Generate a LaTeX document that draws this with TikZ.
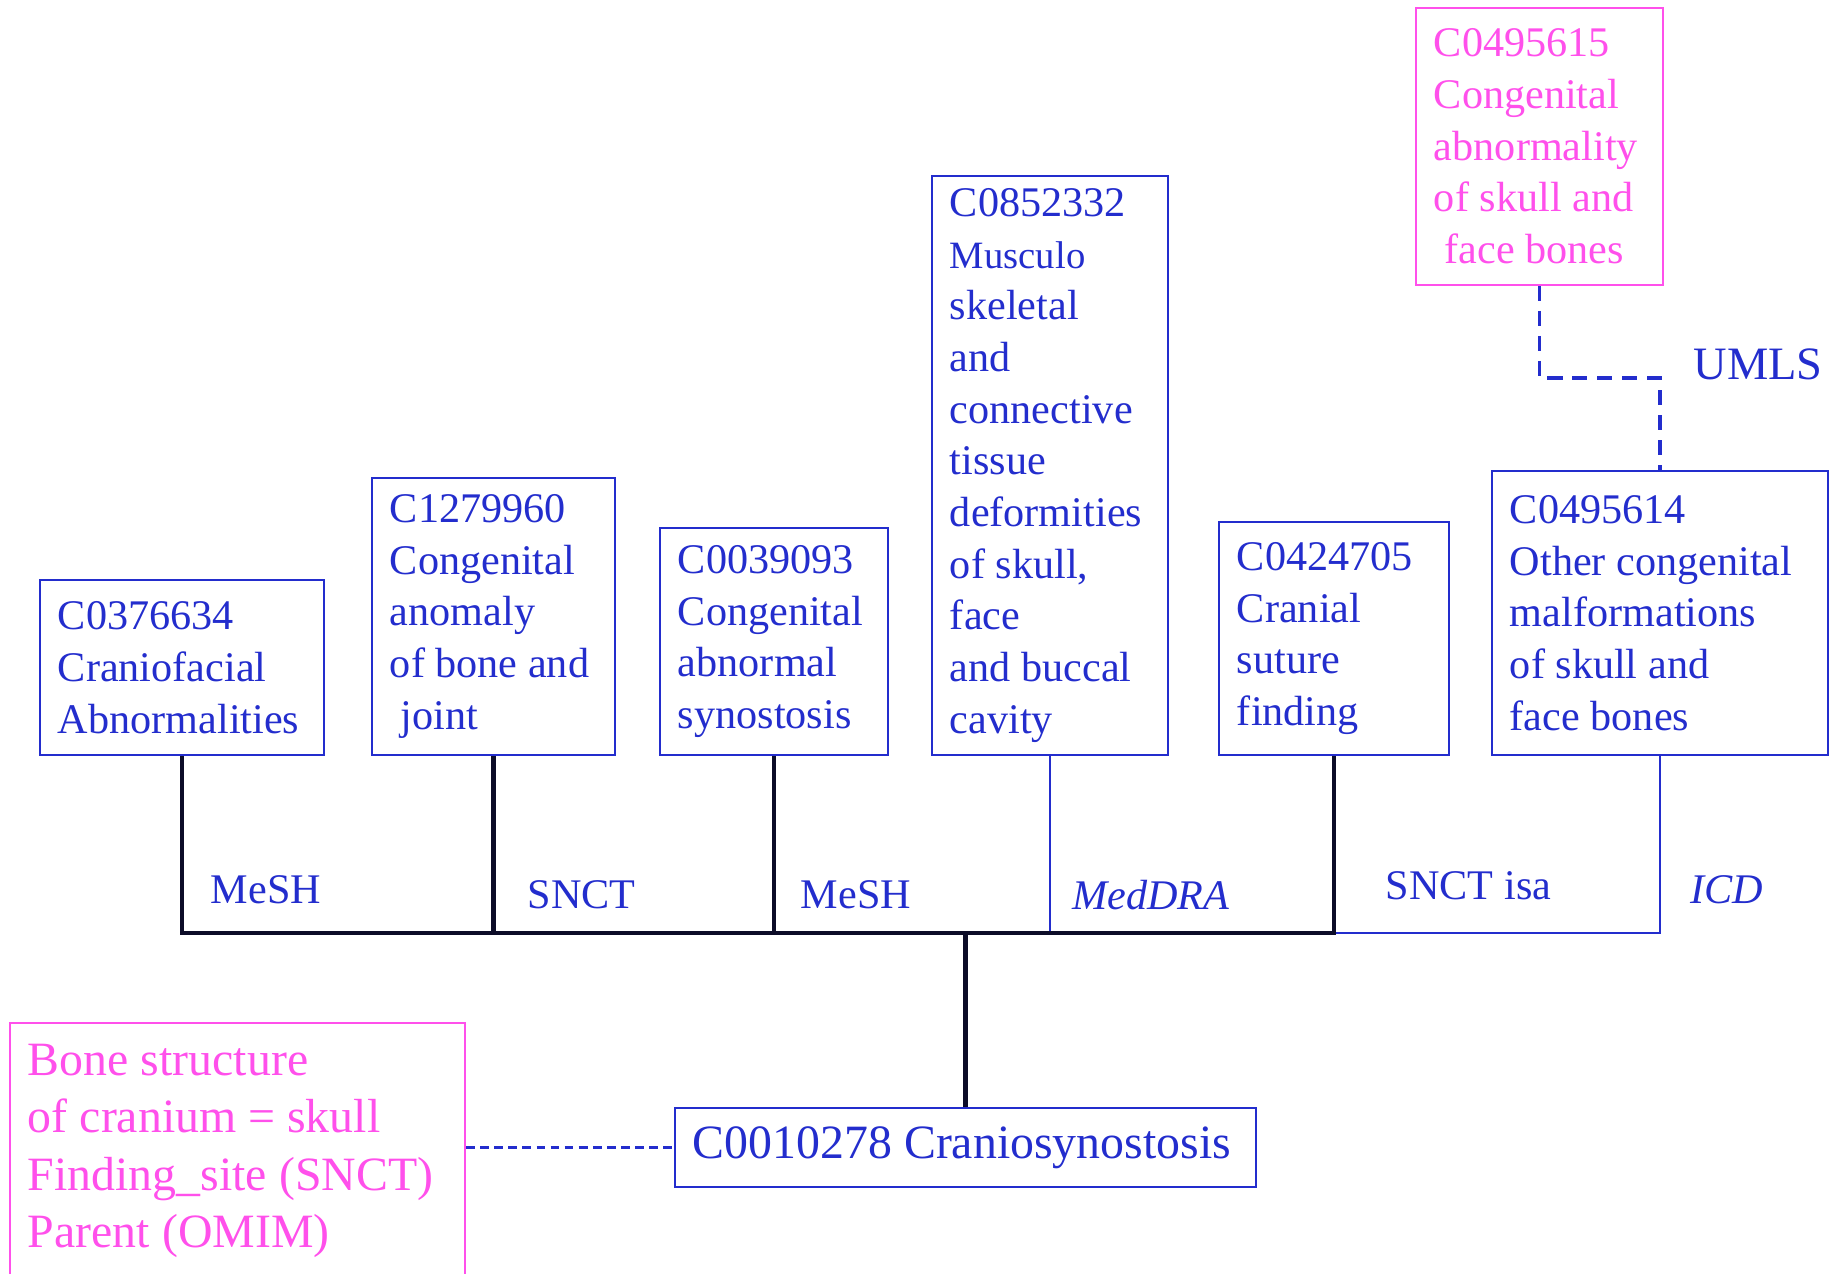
\documentclass[tikz,border=0pt]{standalone}
\usepackage{fontspec}
\setmainfont{Liberation Serif}
\hyphenpenalty=10000
\exhyphenpenalty=10000

\begin{document}
\begin{tikzpicture}[x=0.01cm,y=-0.01cm]
  % Colors
  \definecolor{umlsblue}{RGB}{35,45,205}
  \definecolor{umlspink}{RGB}{255,80,235}
  \definecolor{treecolor}{RGB}{12,12,40}

  % Styles
  \tikzstyle{concept}=[draw=umlsblue,line width=0.55pt,text=umlsblue,align=flush left,
    inner xsep=0.18cm,inner ysep=0pt,anchor=south,font=\fontsize{12}{14.7}\selectfont]
  \tikzstyle{pink concept}=[concept,draw=umlspink,text=umlspink]
  \tikzstyle{source}=[text=umlsblue,inner sep=0pt,font=\fontsize{12}{14.7}\selectfont]
  \tikzstyle{tree line}=[line width=1.4pt,draw=treecolor]
  \tikzstyle{thin line}=[line width=0.5pt,draw=umlsblue]
  \tikzstyle{umls link}=[line width=1.1pt,draw=umlsblue,dash pattern=on 4.3pt off 2.8pt]
  \tikzstyle{site link}=[line width=0.6pt,draw=umlsblue,dash pattern=on 2.5pt off 1.5pt]

  \useasboundingbox (0,0) rectangle (1840,1273);

  % The concepts
  \node[concept,text width=2.48cm,minimum height=1.75cm] (b1) at (182,756)
    {C0376634\\ Craniofacial\\ Abnormalities};
  \node[concept,text width=2.07cm,minimum height=2.77cm] (b2) at (493.5,756)
    {C1279960\\ Congenital\\ anomaly\\ of bone and\\ \hspace*{.25em}joint};
  \node[concept,text width=1.92cm,minimum height=2.27cm] (b3) at (774,756)
    {C0039093\\ Congenital\\ abnormal\\ synostosis};
  \node[concept,text width=2.0cm,minimum height=5.79cm] (b4) at (1050,756)
    {C0852332\\ {\fontsize{11}{14.7}\selectfont Musculo}\\ skeletal\\ and\\
     connective\\ tissue\\ deformities\\ of skull,\\ face\\ and buccal\\ cavity};
  \node[concept,text width=1.94cm,minimum height=2.33cm] (b5) at (1334,756)
    {C0424705\\ Cranial\\ suture\\ finding};
  \node[concept,text width=3.0cm,minimum height=2.84cm] (b6) at (1660,756)
    {C0495614\\ Other congenital\\ malformations\\ of skull and\\ face bones};
  \node[pink concept,text width=2.11cm,minimum height=2.77cm] (b7) at (1539.5,286)
    {C0495615\\ Congenital\\ abnormality\\ of skull and\\ \hspace*{.25em}face bones};

  \node[concept,text width=5.45cm,minimum height=0.79cm,
    font=\fontsize{13.6}{16.3}\selectfont] (root) at (965.5,1188)
    {C0010278 Craniosynostosis};
  \node[pink concept,anchor=north west,inner ysep=0.21cm,text width=4.19cm,
    font=\fontsize{13.6}{16.36}\selectfont] (site) at (9,1022)
    {Bone structure\\ of cranium = skull\\ Finding\_site (SNCT)\\ Parent (OMIM)};

  % Sources
  \node[source] (mesh a) at (266,890) {MeSH};
  \node[source] (snct a) at (581.5,895) {SNCT};
  \node[source] (mesh b) at (856,895) {MeSH};
  \node[source,font=\fontsize{12}{14.7}\selectfont\itshape] (meddra) at (1151,895) {MedDRA};
  \node[source] (snct b) at (1468.5,886) {SNCT isa};
  \node[source,font=\fontsize{12}{14.7}\selectfont\itshape] (icd) at (1727,890) {ICD};
  \node[source,font=\fontsize{13.2}{16}\selectfont] (umls) at (1758,364) {UMLS};

  % The tree
  \coordinate (bus) at (0,933);
  \draw[thin line] (b4.south) |- (root.north |- bus);
  \draw[thin line] (b6.south) |- (b5.south |- bus);
  \draw[tree line] (b1.south) |- (b5.south |- bus) -- (b5.south);
  \draw[tree line] (b2.south) -- (b2.south |- bus);
  \draw[tree line] (b3.south) -- (b3.south |- bus);
  \draw[tree line] (root.north) -- (root.north |- bus);

  \draw[umls link] (b7.south) -- ++(0,92) -| (b6.north);
  \draw[site link] (site.east |- root.west) -- (root.west);
\end{tikzpicture}
\end{document}
